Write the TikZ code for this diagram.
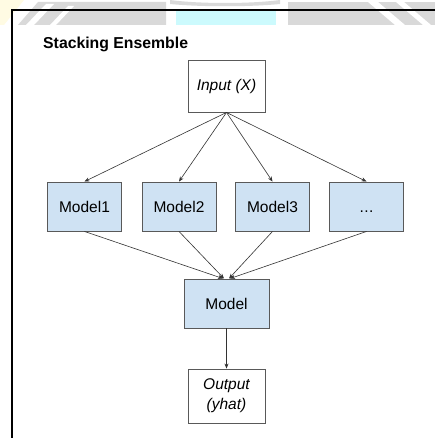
\documentclass[tikz,border=0pt]{standalone}
\usepackage{fontspec}
\setmainfont{Liberation Sans}
\usetikzlibrary{arrows.meta}
\definecolor{boxblue}{HTML}{CFE2F3}
\definecolor{edgegray}{HTML}{595959}
\definecolor{wmgray}{HTML}{D9D9D9}
\definecolor{wmcyan}{HTML}{CCFAFD}
\definecolor{wmyellow}{HTML}{FFFBE3}

\begin{document}
\begin{tikzpicture}[x=1pt,y=-1pt,
  box/.style={draw=edgegray, line width=0.9pt, inner sep=0pt, align=center,
              font=\fontsize{15.5}{20}\selectfont},
  model/.style={box, fill=boxblue, minimum width=74pt, minimum height=49pt},
  plain/.style={box, fill=white, minimum width=77pt},
  link/.style={-{Stealth[length=5pt,width=4pt]}, draw=black!80, line width=0.6pt}]

\useasboundingbox (0,0) rectangle (435,438);
\fill[white] (0,0) rectangle (435,438);

% faint background band along the top edge
\fill[wmyellow] (0,0) -- (24,0) -- (4,25) -- (0,25) -- cycle;
\fill[wmgray] (18,25) -- (38,2) -- (166,2) -- (166,25) -- cycle;
\fill[white] (26,25) -- (46,4) -- (54,4) -- (34,25) -- cycle;
\fill[white] (50,25) -- (68,6) -- (74,6) -- (56,25) -- cycle;
\fill[wmgray] (170,0) .. controls (200,4) and (250,4) .. (280,0) -- (280,4) .. controls (250,7) and (200,7) .. (170,4) -- cycle;
\fill[wmcyan] (176,11) rectangle (276,25);
\fill[wmgray] (288,25) -- (288,2) -- (435,2) -- (435,25) -- cycle;
\fill[white] (368,2) -- (378,2) -- (405,25) -- (395,25) -- cycle;
\fill[white] (396,2) -- (404,2) -- (431,25) -- (423,25) -- cycle;

% frame
\draw[line width=2pt] (12,438) -- (12,10) -- (435,10);

% title
\node[anchor=base west, inner sep=0pt, font=\bfseries\fontsize{15.8}{18}\selectfont]
  (title) at (43,49) {Stacking Ensemble};

% nodes
\node[plain, minimum height=52pt] (input) at (226.5,86) {\itshape Input (X)};
\node[model] (m1) at (84.5,206.5) {Model1};
\node[model] (m2) at (179,206.5) {Model2};
\node[model] (m3) at (272.5,206.5) {Model3};
\node[model] (m4) at (366.5,206.5) {\vphantom{Model}.\kern0.5pt.\kern0.5pt.};
\node[model, minimum width=85pt] (meta) at (226.5,303.5) {Model};
\node[plain, minimum height=54pt] (output) at (226.5,396) {\itshape Output\\\itshape (yhat)};

% connectors
\foreach \m in {m1,m2,m3,m4}
  \draw[link] (input.south) -- (\m.north);
\draw[link] (m1.south) -- ([xshift=-3.5pt]meta.north);
\draw[link] (m2.south) -- ([xshift=-2.5pt]meta.north);
\draw[link] (m3.south) -- ([xshift=2.5pt]meta.north);
\draw[link] (m4.south) -- ([xshift=3.5pt]meta.north);
\draw[link] (meta.south) -- (output.north);
\end{tikzpicture}
\end{document}
